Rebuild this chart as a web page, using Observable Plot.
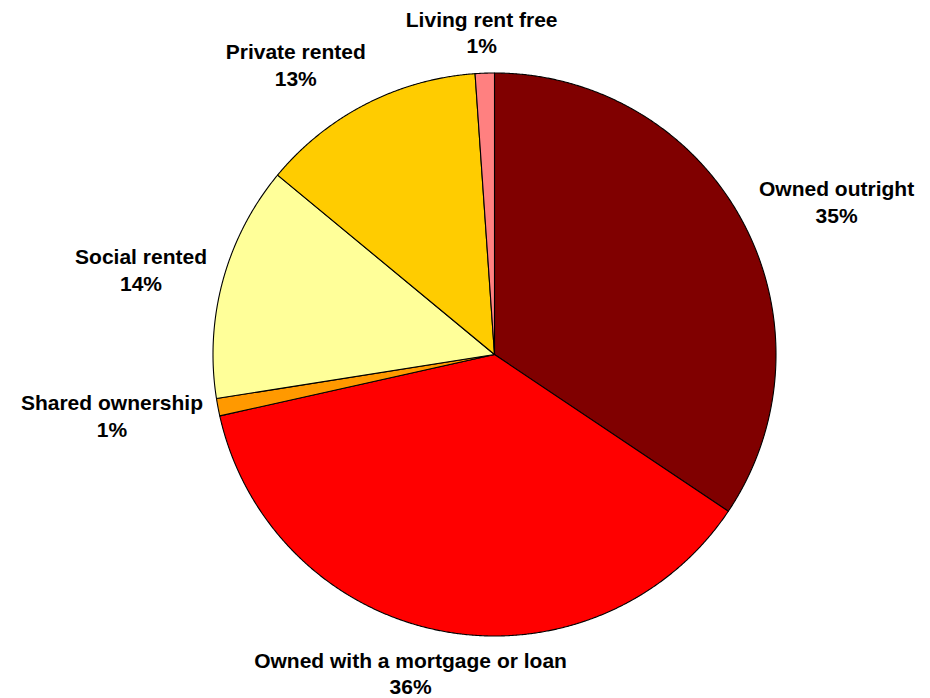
<!DOCTYPE html>
<html>
<head>
<meta charset="utf-8">
<script src="https://cdn.jsdelivr.net/npm/d3@7"></script>
<script src="https://cdn.jsdelivr.net/npm/@observablehq/plot@0.6"></script>
<style>
  html, body { margin: 0; padding: 0; background: #ffffff; }
  #chart svg { display: block; overflow: visible; }
</style>
</head>
<body>
<div id="chart"></div>
<script>
// ---- data (clockwise from 12 o'clock) ----
const categories = ["Owned outright", "Owned with a mortgage or loan", "Shared ownership", "Social rented", "Private rented", "Living rent free"];
const shares = [34.4, 37.1, 1.0, 13.5, 12.9, 1.1];          // slice sizes
const percentLabels = [35, 36, 1, 14, 13, 1];              // percentages printed on the chart
const colors = ["#800000", "#FF0000", "#FF9900", "#FFFF99", "#FFCC00", "#FF8080"];

// ---- layout ----
const W = 930, H = 698;
const CX = 494, CY = 354, R = 281.5;
const FONT = "'Liberation Sans', Arial, Helvetica, sans-serif";
const FONT_SIZE = 21, LINE_H = 1.27;

const pie = d3.pie().sort(null).value(d => d.share).startAngle(0).endAngle(2 * Math.PI);
const arcs = pie(categories.map((c, i) => ({category: c, share: shares[i], pct: percentLabels[i], color: colors[i]})));

// polygon outlines of the slices in unit (data) coordinates, y up
const slicePts = [];
arcs.forEach(a => {
  const n = Math.max(2, Math.ceil((a.endAngle - a.startAngle) / (0.25 * Math.PI / 180)));
  slicePts.push({category: a.data.category, x: 0, y: 0});
  for (let k = 0; k <= n; k++) {
    const t = a.startAngle + (a.endAngle - a.startAngle) * k / n;
    slicePts.push({category: a.data.category, x: Math.sin(t), y: Math.cos(t)});
  }
  slicePts.push({category: a.data.category, x: 0, y: 0});
});

// label placement (Excel-like: box touches a ray at the slice's mid angle,
// then is pushed sideways so that it stays clear of the pie)
const ctx = document.createElement("canvas").getContext("2d");
ctx.font = `bold ${FONT_SIZE}px ${FONT}`;
const RMIN = R + 12;
const labels = arcs.map(a => {
  const mid = (a.startAngle + a.endAngle) / 2;
  const dx = Math.sin(mid), dy = -Math.cos(mid);            // screen direction
  const lines = [a.data.category, `${a.data.pct}%`];
  const w = d3.max(lines, s => ctx.measureText(s).width);
  const h = FONT_SIZE * LINE_H * lines.length;
  const m = Math.max(Math.abs(dx), Math.abs(dy));
  const cx = dx / m, cy = dy / m;
  const hx = CX + (R + 15) * dx, hy = CY + (R + 15) * dy;   // touch point
  let px = hx + cx * w / 2, py = hy + cy * h / 2;            // box centre
  // keep the box outside the circle of radius RMIN (sideways push only
  // for boxes that do not straddle the vertical through the centre)
  const x0 = px - w / 2, x1 = px + w / 2, y0 = py - h / 2, y1 = py + h / 2;
  if (!(x0 < CX && x1 > CX)) {
    const nx = Math.max(x0, Math.min(CX, x1)), ny = Math.max(y0, Math.min(CY, y1));
    const dist = Math.hypot(nx - CX, ny - CY);
    if (dist < RMIN && Math.abs(ny - CY) < RMIN) {
      const need = Math.sqrt(RMIN * RMIN - (ny - CY) * (ny - CY));
      if (dx < 0) px = CX - need - w / 2;
      else px = CX + need + w / 2;
    }
  }
  return {text: lines.join("\n"), x: (px - CX) / R, y: (CY - py) / R};
});

const chart = Plot.plot({
  width: W,
  height: H,
  marginLeft: CX - R,
  marginRight: W - CX - R,
  marginTop: CY - R,
  marginBottom: H - CY - R,
  x: {domain: [-1, 1], axis: null},
  y: {domain: [-1, 1], axis: null},
  color: {domain: categories, range: colors},
  style: {fontFamily: FONT, background: "#ffffff", overflow: "visible"},
  marks: [
    Plot.line(slicePts, {x: "x", y: "y", z: "category", fill: "category", stroke: "#000000", strokeWidth: 1.1, strokeLinejoin: "round", curve: "linear"}),
    Plot.text(labels, {x: "x", y: "y", text: "text", fontSize: FONT_SIZE, fontWeight: "bold", fill: "#000000", textAnchor: "middle", lineAnchor: "middle", lineHeight: LINE_H, fontFamily: FONT})
  ]
});
document.getElementById("chart").appendChild(chart);
</script>
</body>
</html>
